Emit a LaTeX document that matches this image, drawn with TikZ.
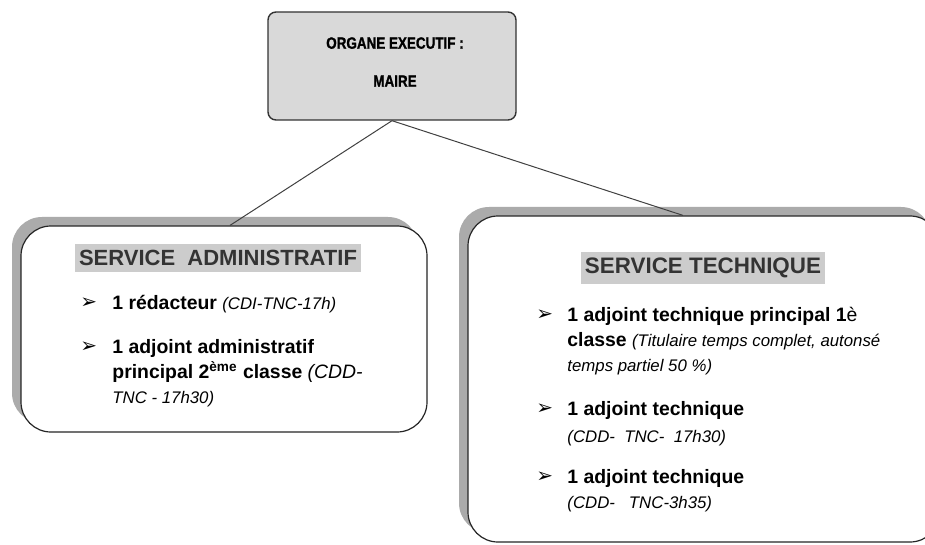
\documentclass[tikz,border=0pt]{standalone}
\usepackage{fontspec}
\setmainfont{Liberation Sans}
\newfontfamily\symfont{DejaVu Sans}
\newfontfamily\heavyfont[FakeStretch=0.82,FakeBold=1.2]{Liberation Sans Bold}
\usetikzlibrary{positioning,shadows}
\newcommand{\itl}[1]{{\mdseries\itshape #1}}
\newcommand{\smitl}[1]{{\mdseries\itshape\fontsize{8.4}{11}\selectfont #1}}

\begin{document}
\begin{tikzpicture}[
    x=0.5pt,y=-0.5pt,
    topbox/.style={rectangle,rounded corners=4pt,draw=black!80,line width=0.7pt,fill=black!15,minimum width=124pt,minimum height=54pt},
    svcbox/.style={rectangle,rounded corners=15pt,draw=black!85,line width=0.6pt,fill=white,
      drop shadow={shadow xshift=-4.5pt,shadow yshift=4.5pt,fill=black!33,opacity=1}},
    toptxt/.style={align=center,inner sep=0pt,font=\heavyfont\fontsize{8.2}{19}\selectfont},
    title/.style={fill=black!20,text=black!80,inner xsep=2pt,inner ysep=3pt,font=\bfseries\fontsize{11}{12}\selectfont},
    bul/.style={anchor=west,inner sep=0pt,font=\symfont\fontsize{10}{12}\selectfont},
    itm/.style={anchor=north west,inner sep=0pt,align=left,font=\bfseries\fontsize{9.7}{12.5}\selectfont},
    link/.style={draw=black!75,line width=0.5pt}
  ]
  \useasboundingbox (0,0) rectangle (925,545);

  % boxes
  \node[topbox] (exec) at (392,66) {};
  \node[toptxt] (exectxt) at (395,62) {ORGANE EXECUTIF :\\MAIRE};
  \node[svcbox,minimum width=203pt,minimum height=103pt] (adm) at (224,329) {};
  \node[svcbox,minimum width=236pt,minimum height=163pt] (tec) at (704,379) {};

  \draw[link] (exec.south) -- ([xshift=3pt]adm.north);
  \draw[link] (exec.south) -- ([xshift=-10.5pt]tec.north);

  % service administratif
  \node[title] (admtitle) at (218,258) {SERVICE~~ADMINISTRATIF};
  \node[bul] (ab1) at (80,303) {➢};
  \node[itm] (ai1) at (112,295) {1 rédacteur \smitl{(CDI-TNC-17h)}};
  \node[bul] (ab2) at (80,347) {➢};
  \node[itm] (ai2) at (112,339) {1 adjoint administratif\\principal 2\textsuperscript{ème} classe \itl{(CDD-}\\\smitl{TNC - 17h30)}};

  % service technique
  \node[title,font=\bfseries\fontsize{11.2}{12}\selectfont] (tectitle) at (703,268) {SERVICE TECHNIQUE};
  \node[bul] (tb1) at (536,315) {➢};
  \node[itm] (ti1) at (567,307) {1 adjoint technique principal 1{\mdseries è}\\classe \smitl{(Titulaire temps complet, autonsé}\\\smitl{temps partiel 50 \%)}};
  \node[bul] (tb2) at (536,409) {➢};
  \node[itm] (ti2) at (567,401) {1 adjoint technique\\[1pt]\smitl{(CDD-~~TNC-~~17h30)}};
  \node[bul] (tb3) at (536,477) {➢};
  \node[itm] (ti3) at (567,469) {1 adjoint technique\\\smitl{(CDD-~~~TNC-3h35)}};
\end{tikzpicture}
\end{document}
